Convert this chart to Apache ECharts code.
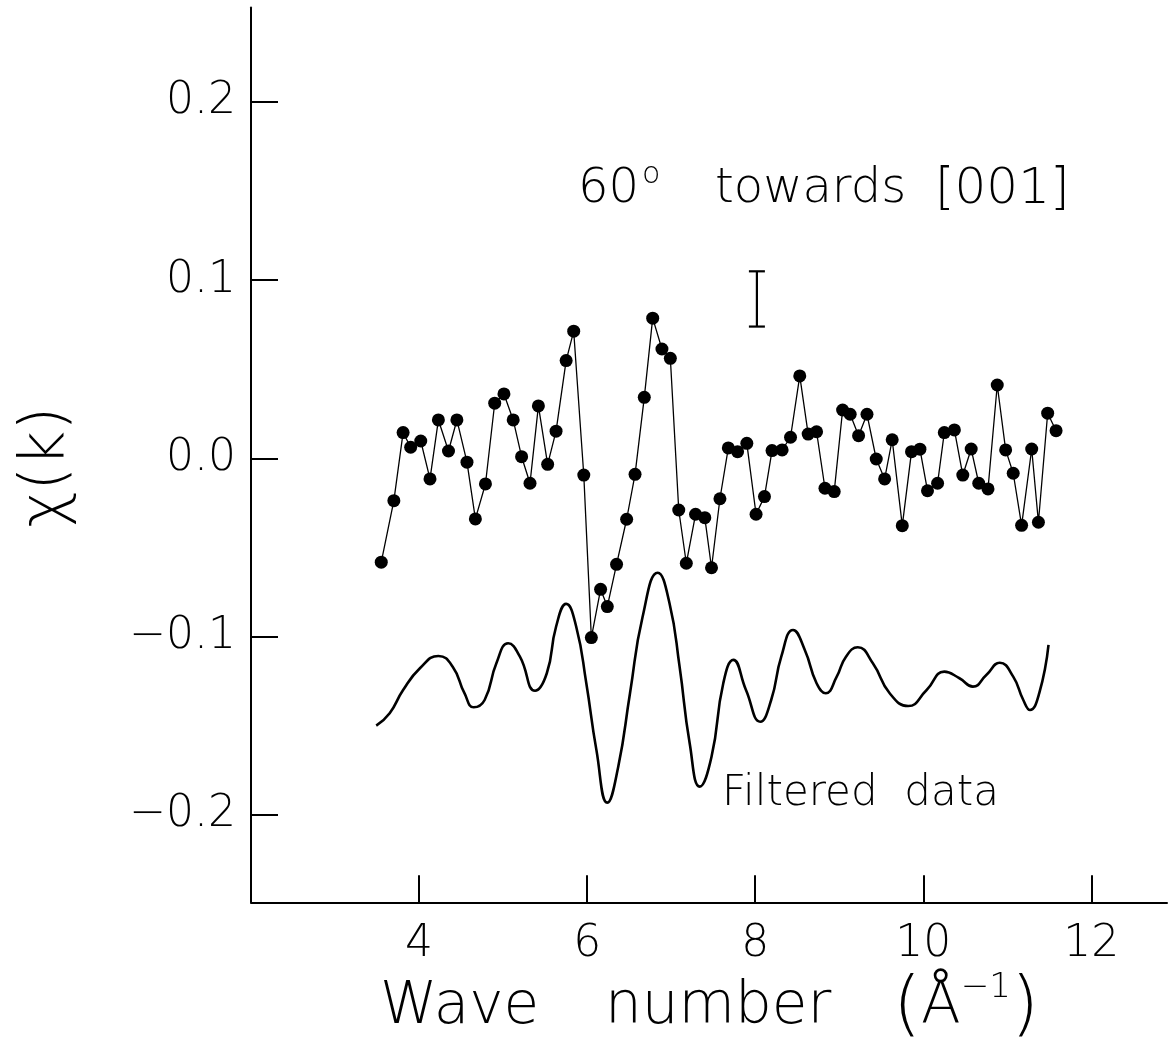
<!DOCTYPE html>
<html>
<head>
<meta charset="utf-8">
<script src="https://cdn.jsdelivr.net/npm/echarts@6/dist/echarts.min.js"></script>
<style>
html,body{margin:0;padding:0;background:#fff;}
#chart{width:1169px;height:1047px;}
</style>
</head>
<body>
<div id="chart"></div>
<script>
// Measured chi(k) data points
const kData = [3.55,3.70,3.81,3.90,4.02,4.13,4.23,4.35,4.45,4.57,4.67,4.79,4.90,5.01,5.12,5.22,5.32,5.42,5.53,5.63,
  5.75,5.84,5.96,6.05,6.16,6.24,6.35,6.47,6.57,6.68,6.78,6.89,6.99,7.09,7.18,7.29,7.40,7.48,7.58,7.68,
  7.79,7.90,8.01,8.11,8.20,8.32,8.42,8.53,8.63,8.73,8.83,8.94,9.04,9.13,9.23,9.33,9.44,9.54,9.63,9.75,
  9.86,9.96,10.05,10.17,10.25,10.37,10.47,10.57,10.66,10.77,10.88,10.98,11.07,11.17,11.29,11.37,11.48,11.58];
const chiData = [-0.0582,-0.0237,0.0145,0.0063,0.0098,-0.0115,0.0216,0.0042,0.0216,-0.0021,-0.0339,-0.0143,0.0310,0.0362,0.0216,0.0010,-0.0139,0.0295,-0.0033,0.0153,
  0.0549,0.0714,-0.0093,-0.1005,-0.0734,-0.0831,-0.0594,-0.0341,-0.0089,0.0343,0.0787,0.0614,0.0562,-0.0289,-0.0588,-0.0313,-0.0332,-0.0613,-0.0226,0.0059,
  0.0038,0.0085,-0.0313,-0.0214,0.0044,0.0048,0.0119,0.0463,0.0137,0.0150,-0.0167,-0.0186,0.0272,0.0248,0.0128,0.0248,-0.0003,-0.0115,0.0105,-0.0377,
  0.0038,0.0052,-0.0181,-0.0139,0.0145,0.0160,-0.0093,0.0053,-0.0139,-0.0171,0.0412,0.0048,-0.0083,-0.0375,0.0053,-0.0358,0.0254,0.0156];

// Filtered curve (traced)
const kFilt = [3.49,3.65,3.81,4.01,4.23,4.40,4.54,4.65,4.78,4.92,5.06,5.20,5.38,5.52,5.63,5.75,5.87,5.99,6.11,6.24,
  6.37,6.51,6.66,6.84,6.98,7.10,7.22,7.34,7.48,7.62,7.74,7.89,8.06,8.19,8.31,8.45,8.59,8.73,8.84,8.97,
  9.08,9.22,9.40,9.60,9.82,10.04,10.25,10.43,10.59,10.75,10.91,11.07,11.19,11.27,11.38,11.49];
const chiFilt = [-0.1499,-0.1429,-0.1299,-0.1177,-0.1108,-0.1168,-0.1317,-0.1396,-0.1355,-0.1149,-0.1037,-0.1112,-0.1303,-0.1205,-0.0944,-0.0816,-0.0944,-0.1261,-0.1635,-0.1931,
  -0.1729,-0.1317,-0.0888,-0.0641,-0.0812,-0.1168,-0.1598,-0.1841,-0.1673,-0.1261,-0.1130,-0.1299,-0.1477,-0.1355,-0.1112,-0.0962,-0.1074,-0.1261,-0.1317,-0.1224,
  -0.1112,-0.1059,-0.1149,-0.1317,-0.1389,-0.1299,-0.1196,-0.1233,-0.1280,-0.1215,-0.1146,-0.1224,-0.1355,-0.1411,-0.1317,-0.1046];

// Error bar
const errK = [8.02];
const errLow = [0.074];
const errHigh = [0.105];

const xTicks = [4, 6, 8, 10, 12];
const yTicks = [-0.2, -0.1, 0.0, 0.1, 0.2];

const FONT = 'DejaVu Sans';
const f = (size) => '200 ' + size + 'px "' + FONT + '"';
const chart = echarts.init(document.getElementById('chart'), null, {renderer: 'canvas'});

const option = {
  animation: false,
  backgroundColor: '#fff',
  grid: {left: 251, top: 7.5, width: 916, height: 894.8, containLabel: false},
  xAxis: {
    type: 'value', min: 2, max: 12.9, interval: 2,
    axisLine: {show: true, onZero: false, lineStyle: {color: '#000', width: 2}},
    axisTick: {show: true, inside: true, length: 27, lineStyle: {color: '#000', width: 2}, customValues: xTicks},
    axisLabel: {show: true, margin: 20, fontSize: 44, fontFamily: FONT, fontWeight: 200, color: '#000', customValues: xTicks,
      formatter: v => String(v)},
    splitLine: {show: false}
  },
  yAxis: {
    type: 'value', min: -0.249, max: 0.253,
    axisLine: {show: true, onZero: false, lineStyle: {color: '#000', width: 2}},
    axisTick: {show: true, inside: true, length: 27, lineStyle: {color: '#000', width: 2}, customValues: yTicks},
    axisLabel: {show: true, margin: 15, fontSize: 44, fontFamily: FONT, fontWeight: 200, color: '#000', customValues: yTicks,
      formatter: v => (v < 0 ? '\u2212' : '') + Math.abs(v).toFixed(1)},
    splitLine: {show: false}
  },
  series: [
    {
      type: 'line',
      data: kData.map((k, i) => [k, chiData[i]]),
      symbol: 'circle', symbolSize: 13,
      itemStyle: {color: '#000'},
      lineStyle: {color: '#000', width: 1.3},
      z: 3
    },
    {
      type: 'line',
      data: kFilt.map((k, i) => [k, chiFilt[i]]),
      symbol: 'none', smooth: 0.5,
      lineStyle: {color: '#000', width: 2.6},
      z: 2
    },
    {
      type: 'custom',
      data: errK.map((k, i) => [k, errLow[i], errHigh[i]]),
      renderItem: function (params, api) {
        const lo = api.coord([api.value(0), api.value(1)]);
        const hi = api.coord([api.value(0), api.value(2)]);
        const hw = 8;
        const st = {stroke: '#000', lineWidth: 2.2};
        return {type: 'group', children: [
          {type: 'line', shape: {x1: lo[0], y1: lo[1], x2: hi[0], y2: hi[1]}, style: st},
          {type: 'line', shape: {x1: lo[0] - hw, y1: lo[1], x2: lo[0] + hw, y2: lo[1]}, style: st},
          {type: 'line', shape: {x1: hi[0] - hw, y1: hi[1], x2: hi[0] + hw, y2: hi[1]}, style: st}
        ]};
      },
      z: 4
    }
  ],
  graphic: [
    {type: 'text', x: 47, y: 467, rotation: Math.PI / 2,
      style: {text: '\u03c7(k)', font: f(62), fill: '#000', align: 'center', verticalAlign: 'middle'}},
    {type: 'text', x: 380, y: 1008,
      style: {text: '{w|Wave}{n|number}{p|(}{a|\u00c5}{s|\u22121}{p|)}', font: f(58), fill: '#000', align: 'left', verticalAlign: 'middle',
        rich: {
          w: {font: f(58), width: 225},
          n: {font: f(58), width: 288},
          p: {font: f(72)},
          a: {font: f(58)},
          s: {font: f(34), padding: [0, 0, 40, 0]}
        }}},
    {type: 'text', x: 578, y: 190,
      style: {text: '{a|60}{o|o}{b|towards}{c|[001]}', font: f(48), fill: '#000', align: 'left', verticalAlign: 'middle',
        rich: {
          a: {font: f(48), width: 64},
          o: {font: f(30), width: 73, padding: [0, 0, 30, 0]},
          b: {font: f(48), width: 220},
          c: {font: f(50)}
        }}},
    {type: 'text', x: 722, y: 794,
      style: {text: 'Filtered  data', font: f(42), fill: '#000', align: 'left', verticalAlign: 'middle'}}
  ]
};
chart.setOption(option);
</script>
</body>
</html>
